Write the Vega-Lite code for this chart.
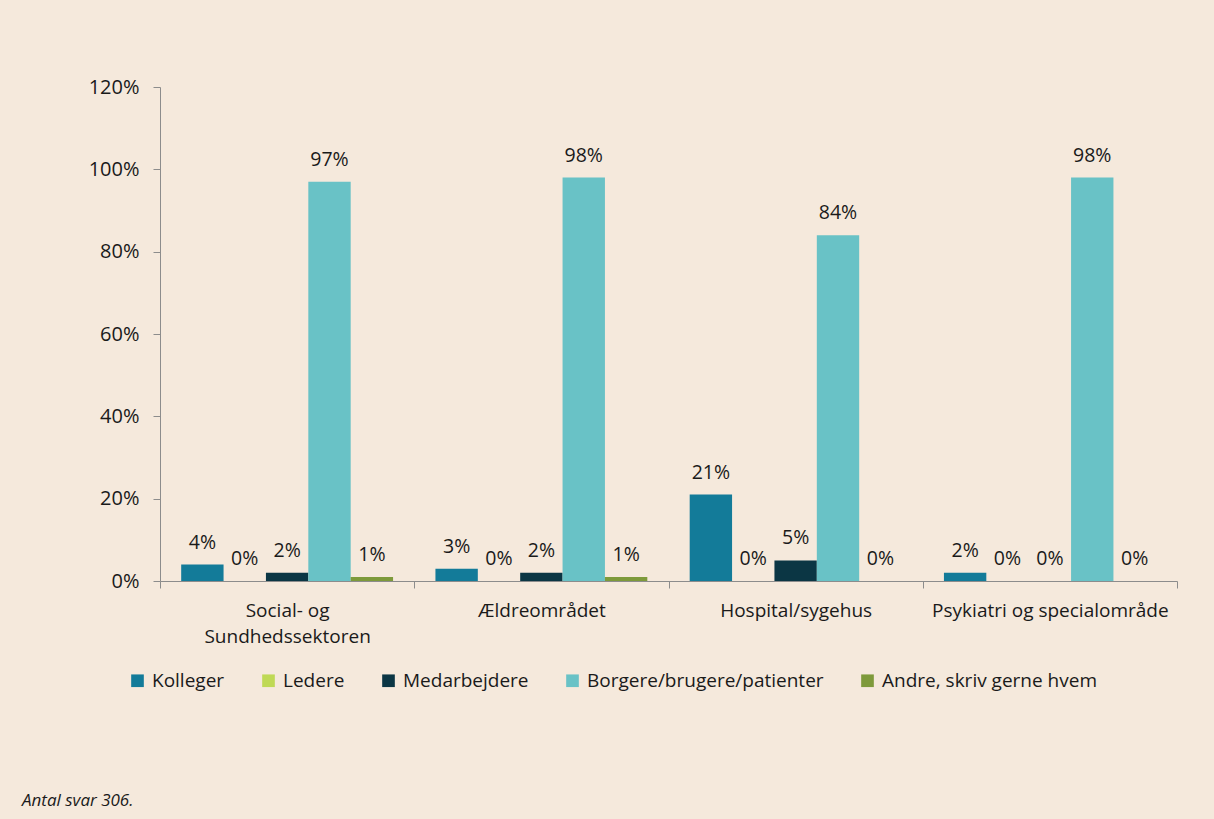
{
  "$schema": "https://vega.github.io/schema/vega-lite/v6.json",
  "width": 1017,
  "height": 494,
  "autosize": {"type": "none"},
  "padding": {"left": 160, "top": 87, "right": 37, "bottom": 238},
  "background": "#F5E9DC",
  "config": {
    "font": "Open Sans",
    "view": {"stroke": null},
    "axis": {"domainColor": "#8C8C8C", "tickColor": "#8C8C8C", "labelColor": "#1A1A1A", "labelFontSize": 19, "labelLimit": 0, "grid": false, "title": null}
  },
  "title": {
    "text": "Antal svar 306.",
    "orient": "bottom",
    "anchor": "start",
    "frame": "group",
    "dx": -138,
    "offset": 102,
    "fontStyle": "italic",
    "fontWeight": "normal",
    "fontSize": 17,
    "color": "#1A1A1A"
  },
  "data": {
    "values": [
      {"sektor": "Social- og Sundhedssektoren", "gruppe": "Kolleger", "andel": 0.04},
      {"sektor": "Social- og Sundhedssektoren", "gruppe": "Ledere", "andel": 0.0},
      {"sektor": "Social- og Sundhedssektoren", "gruppe": "Medarbejdere", "andel": 0.02},
      {"sektor": "Social- og Sundhedssektoren", "gruppe": "Borgere/brugere/patienter", "andel": 0.97},
      {"sektor": "Social- og Sundhedssektoren", "gruppe": "Andre, skriv gerne hvem", "andel": 0.01},
      {"sektor": "Ældreområdet", "gruppe": "Kolleger", "andel": 0.03},
      {"sektor": "Ældreområdet", "gruppe": "Ledere", "andel": 0.0},
      {"sektor": "Ældreområdet", "gruppe": "Medarbejdere", "andel": 0.02},
      {"sektor": "Ældreområdet", "gruppe": "Borgere/brugere/patienter", "andel": 0.98},
      {"sektor": "Ældreområdet", "gruppe": "Andre, skriv gerne hvem", "andel": 0.01},
      {"sektor": "Hospital/sygehus", "gruppe": "Kolleger", "andel": 0.21},
      {"sektor": "Hospital/sygehus", "gruppe": "Ledere", "andel": 0.0},
      {"sektor": "Hospital/sygehus", "gruppe": "Medarbejdere", "andel": 0.05},
      {"sektor": "Hospital/sygehus", "gruppe": "Borgere/brugere/patienter", "andel": 0.84},
      {"sektor": "Hospital/sygehus", "gruppe": "Andre, skriv gerne hvem", "andel": 0.0},
      {"sektor": "Psykiatri og specialområde", "gruppe": "Kolleger", "andel": 0.02},
      {"sektor": "Psykiatri og specialområde", "gruppe": "Ledere", "andel": 0.0},
      {"sektor": "Psykiatri og specialområde", "gruppe": "Medarbejdere", "andel": 0.0},
      {"sektor": "Psykiatri og specialområde", "gruppe": "Borgere/brugere/patienter", "andel": 0.98},
      {"sektor": "Psykiatri og specialområde", "gruppe": "Andre, skriv gerne hvem", "andel": 0.0}
    ]
  },
  "encoding": {
    "x": {
      "field": "sektor",
      "type": "nominal",
      "sort": ["Social- og Sundhedssektoren", "Ældreområdet", "Hospital/sygehus", "Psykiatri og specialområde"],
      "scale": {"paddingInner": 0, "paddingOuter": 0},
      "axis": {
        "labelAngle": 0,
        "tickBand": "extent",
        "tickSize": 7,
        "labelPadding": 13,
        "labelLineHeight": 26,
        "labelExpr": "datum.label == 'Social- og Sundhedssektoren' ? ['Social- og', 'Sundhedssektoren'] : datum.label"
      }
    },
    "xOffset": {
      "field": "gruppe",
      "type": "nominal",
      "sort": ["Kolleger", "Ledere", "Medarbejdere", "Borgere/brugere/patienter", "Andre, skriv gerne hvem"],
      "scale": {"paddingInner": 0, "paddingOuter": 0.5}
    },
    "y": {
      "field": "andel",
      "type": "quantitative",
      "scale": {"domain": [0, 1.2]},
      "axis": {"values": [0, 0.2, 0.4, 0.6, 0.8, 1.0, 1.2], "format": ".0%", "tickSize": 7, "labelPadding": 14, "labelFontSize": 20}
    }
  },
  "layer": [
    {
      "mark": {"type": "bar"},
      "encoding": {
        "color": {
          "field": "gruppe",
          "type": "nominal",
          "scale": {
            "domain": ["Kolleger", "Ledere", "Medarbejdere", "Borgere/brugere/patienter", "Andre, skriv gerne hvem"],
            "range": ["#137B99", "#BFD955", "#0B3644", "#69C2C6", "#7E9A3B"]
          },
          "legend": {
            "orient": "none",
            "legendX": -32,
            "legendY": 584,
            "direction": "horizontal",
            "columns": 5,
            "title": null,
            "symbolType": "square",
            "symbolSize": 160,
            "symbolStrokeWidth": 0,
            "labelFontSize": 19,
            "labelLimit": 0,
            "labelColor": "#1A1A1A",
            "columnPadding": 34,
            "labelOffset": 5
          }
        }
      }
    },
    {
      "mark": {"type": "text", "dy": -16, "baseline": "alphabetic", "fontSize": 19.5, "color": "#1A1A1A"},
      "encoding": {"text": {"field": "andel", "type": "quantitative", "format": ".0%"}}
    }
  ]
}
